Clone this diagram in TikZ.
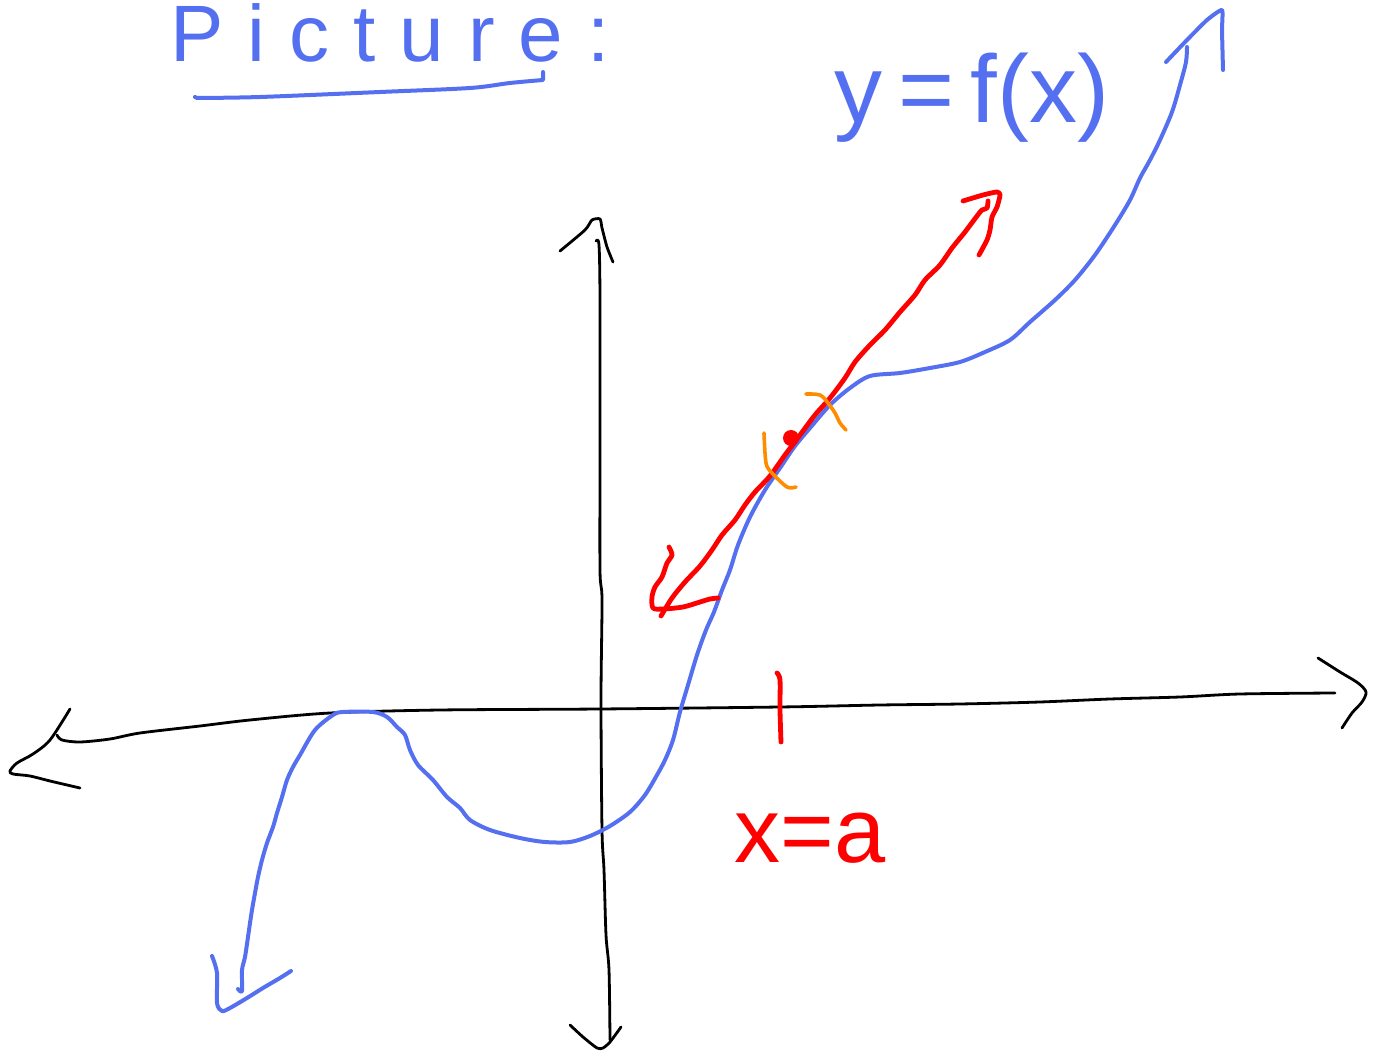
\documentclass[tikz,border=0pt]{standalone}
\usepackage{fontspec}
\setmainfont{Liberation Sans}
\usepackage{xcolor}
\usetikzlibrary{positioning}
\definecolor{penblue}{RGB}{84,112,240}
\definecolor{penred}{RGB}{255,0,0}
\definecolor{penorange}{RGB}{255,140,0}

\begin{document}
\begin{tikzpicture}[
  x=0.5pt, y=-0.5pt,
  ink/.style={line cap=round, line join=round},
  axisline/.style={ink, black, line width=1.4pt},
  fcurve/.style={ink, penblue, line width=2pt},
  tanline/.style={ink, penred, line width=2.4pt},
  crossmark/.style={ink, penorange, line width=1.8pt},
  lbl/.style={inner sep=0pt, anchor=base west}
]
\useasboundingbox (0,0) rectangle (1377,1053);

% title
\node[lbl, penblue, font=\fontsize{40}{40}\selectfont\addfontfeature{LetterSpace=30}] (title) at (170,62) {Picture:};
\draw[fcurve] (195,97) -- (197,98) plot[smooth, tension=0.5] coordinates {(197,98) (260,97) (380,92) (470,88) (510,83) (543,80)} -- (543,72);

% x-axis
\draw[axisline] plot[smooth, tension=0.5] coordinates {(57,735) (62,740) (80,742) (110,739) (140,733) (200,726) (250,720) (330,713) (440,710) (600,709) (780,707) (880,705) (960,704) (1040,702) (1110,699) (1180,697) (1240,694) (1335,693)};
\draw[axisline] plot[smooth, tension=0.5] coordinates {(70,709) (50,740) (33,754) (17,763) (10,771) (13,774) (30,776) (50,781) (80,788)};
\draw[axisline] plot[smooth, tension=0.5] coordinates {(1318,658) (1340,672) (1358,683) (1366,692) (1362,702) (1352,713) (1342,728)};

% y-axis
\draw[axisline] plot[smooth, tension=0.5] coordinates {(596,241) (599,245) (600,300) (600,450) (600,570) (602,600) (601,700) (602,830) (604,870) (606,935) (609,970) (610,1040)};
\draw[axisline] plot[smooth, tension=0.4] coordinates {(560,251) (585,230) (592,220) (600,219) (602,228) (607,247) (613,262)};
\draw[axisline] plot[smooth, tension=0.4] coordinates {(570,1025) (583,1037) (597,1048) (603,1048) (610,1042) (621,1027)};

% graph of f
\draw[fcurve] plot[smooth, tension=0.5] coordinates {(238,989) (242,991) (242,970) (245,957) (248,937) (250,923) (252,910) (255,893) (258,877) (262,860) (267,843) (273,827) (277,813) (282,797) (287,780) (293,767) (300,755) (315,730) (333,715) (343,712) (373,712) (387,717) (397,727) (405,735) (410,750) (418,765) (433,780) (447,797) (460,808) (470,820) (490,830) (520,838) (545,842) (570,842) (590,836) (610,826) (630,812) (645,795) (657,775) (665,760) (673,740) (680,712) (688,685) (697,655) (706,630) (714,612) (722,590) (730,570) (738,545) (750,517) (765,490) (780,468) (795,446) (810,428) (830,405) (850,388) (870,376) (900,373) (930,368) (960,362) (985,352) (1010,340) (1030,322) (1055,300) (1075,280) (1095,255) (1115,225) (1130,200) (1140,178) (1150,160) (1160,140) (1172,112) (1180,85) (1186,62) (1187,47)};
\draw[fcurve] plot[smooth, tension=0.5] coordinates {(212,956) (217,973) (217,1003) (222,1011) (230,1008) (247,998) (263,988) (280,978) (291,971)};
\draw[fcurve] plot[smooth, tension=0.3] coordinates {(1166,62) (1187,40) (1207,20) (1222,10) (1222,30) (1223,70)};
\node[lbl, penblue, font=\fontsize{48}{48}\selectfont] (flabel) at (834,123) {y\,=\,f(x)};

% tangent line at x = a
\draw[tanline] plot[smooth, tension=0.5] coordinates {(661,616) (672,598) (685,582) (700,566) (712,550) (722,535) (735,520) (745,505) (755,492) (770,476) (785,455) (800,435) (815,415) (830,398) (845,378) (855,362) (870,345) (885,330) (900,312) (915,295) (925,280) (940,265) (952,248) (965,232) (977,216) (982,210) (987,208) (988,201)};
\draw[tanline] plot[smooth, tension=0.5] coordinates {(669,547) (672,555) (667,563) (662,577) (655,587) (652,597) (653,608) (663,609) (683,607) (700,602) (710,599) (718,598)};
\draw[tanline] plot[smooth, tension=0.4] coordinates {(963,201) (983,195) (997,192) (1000,195) (997,207) (992,217) (990,230) (987,240) (979,255)};
\node[circle, fill=penred, inner sep=0pt, minimum size=8pt] (pt) at (791,438) {};

% tick and label
\draw[tanline] plot[smooth, tension=0.5] coordinates {(777,673) (780,680) (780,710) (781,742)};
\node[lbl, penred, font=\fontsize{46}{46}\selectfont] (alabel) at (734,862) {x=a};

% orange marks
\draw[crossmark] plot[smooth, tension=0.5] coordinates {(764,433) (766,463) (772,473) (787,487) (796,487)};
\draw[crossmark] plot[smooth, tension=0.5] coordinates {(806,394) (820,395) (828,403) (835,413) (840,423) (846,430)};
\end{tikzpicture}
\end{document}
